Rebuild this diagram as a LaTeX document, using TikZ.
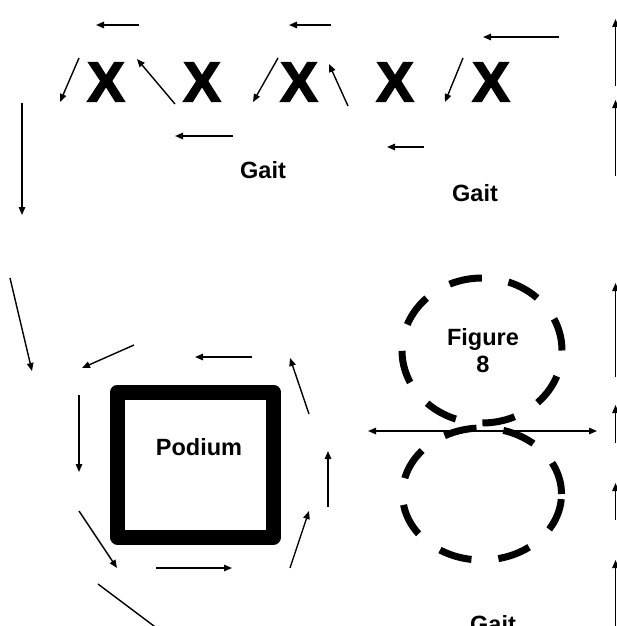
\documentclass[tikz,border=0pt]{standalone}
\usepackage{fontspec}
\setmainfont{Liberation Sans}
\newfontfamily\heavyfont[FakeBold=3]{Liberation Sans Bold}
\usetikzlibrary{arrows.meta, shapes.geometric}

\tikzset{
  walk/.style={line width=1.4pt, -{Triangle[length=8pt, width=6.5pt]}},
  twoway/.style={line width=1.4pt, {Triangle[length=8pt, width=6.5pt]}-{Triangle[length=8pt, width=6.5pt]}},
  rim/.style={line width=1pt, -{Triangle[length=8pt, width=6.5pt]}},
  tag/.style={font=\fontsize{23.5}{27}\selectfont\bfseries, inner sep=0pt, align=center},
  model/.style={font=\fontsize{56}{60}\selectfont\heavyfont, inner sep=0pt},
  loop8/.style={draw, ellipse, line width=7pt, dash pattern=on 33pt off 27pt, inner sep=0pt}
}

\begin{document}
\begin{tikzpicture}[x=1pt, y=-1pt]
    \useasboundingbox (0,0) rectangle (616,626);

    % models on the line
    \node[model] (x_1) at (106,82) {X};
    \node[model] (x_2) at (202,82) {X};
    \node[model] (x_3) at (299,82) {X};
    \node[model] (x_4) at (395,82) {X};
    \node[model] (x_5) at (491,82) {X};
    \node[tag] (gait_1) at (263,170) {Gait};
    \node[tag] (gait_2) at (475,193) {Gait};

    \path[walk]
    (139,25) edge (96,25)
    (331,25) edge (289,25)
    (559,37) edge (483,37)
    (79,58) edge (60,102)
    (175,104) edge (137,59)
    (278,58) edge (253,102)
    (348,106) edge (329,64)
    (463,58) edge (445,102)
    (233,136) edge (175,136)
    (424,147) edge (387,147)
    (22,103) edge (22,215)
    ;

    % podium
    \node[draw, line width=15pt, line join=round, minimum width=156pt, minimum height=145pt] (podium) at (195.5,464.5) {};
    \node[tag] (podium_text) at (199,447) {Podium};

    \path[walk]
    (10,278) edge (32,371)
    (134,345) edge (82,368)
    (252,357) edge (195,357)
    (309,414) edge (290,358)
    (79,395) edge (79,472)
    (79,511) edge (117,568)
    (156,568) edge (232,568)
    (290,568) edge (309,511)
    (98,584) edge (170,638)
    (328,507) edge (328,451)
    ;

    % figure 8
    \node[loop8, minimum width=160pt, minimum height=145pt] (top_loop) at (482,350.5) {};
    \node[tag] (figure) at (483,351) {Figure\\8};
    \node[loop8, minimum width=159pt, minimum height=132pt] (low_loop) at (482,494) {};
    \draw[twoway] (368,431) -- (597,431);
    \node[tag] (gait_3) at (493,624) {Gait};

    % right edge
    \path[rim]
    (615.5,86) edge (615.5,19)
    (615.5,176) edge (615.5,100)
    (615.5,377) edge (615.5,283)
    (615.5,443) edge (615.5,405)
    (615.5,520) edge (615.5,483)
    (615.5,640) edge (615.5,560)
    ;
\end{tikzpicture}
\end{document}
